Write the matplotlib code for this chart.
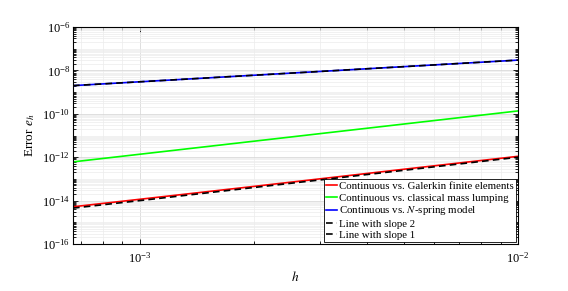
import numpy as np
import matplotlib
matplotlib.use("Agg")
import matplotlib.pyplot as plt
from matplotlib.ticker import LogLocator, NullFormatter, FixedLocator

plt.rcParams['font.family'] = ['Liberation Serif', 'DejaVu Serif']
plt.rcParams['mathtext.fontset'] = 'stix'

h = [1/1500, 1/1000, 1/500, 1/200, 1/100]
err_galerkin = [5.2e-15, 1.15e-14, 4.5e-14, 2.8e-13, 1.1e-12]
err_lumping = [6.1e-13, 1.37e-12, 5.45e-12, 3.4e-11, 1.36e-10]
err_spring = [2.0e-9, 3.0e-9, 6.0e-9, 1.5e-8, 3.0e-8]
slope2_line = [4.5e-15, 1.0e-14, 4.0e-14, 2.5e-13, 1.0e-12]
slope1_line = [2.0e-9, 3.0e-9, 6.0e-9, 1.5e-8, 3.0e-8]

fig = plt.figure(figsize=(5.68, 2.91), dpi=100)
ax = fig.add_axes([0.1285, 0.1615, 0.7835, 0.7455])

ax.loglog(h, err_galerkin, color='#ff0000', lw=1.2, label='Continuous vs. Galerkin finite elements')
ax.loglog(h, err_lumping, color='#00ff00', lw=1.2, label='Continuous vs. classical mass lumping')
ax.loglog(h, err_spring, color='#0000ff', lw=1.2, label='Continuous vs. $N$-spring model')
ax.loglog(h, slope2_line, color='black', lw=1.2, ls=(0, (4, 2.5)), label='Line with slope 2')
ax.loglog(h, slope1_line, color='black', lw=1.2, ls=(0, (4, 2.5)), label='Line with slope 1')

ax.set_xlim(1/1500, 1e-2)
ax.set_ylim(1e-16, 1e-6)

ax.yaxis.set_major_locator(FixedLocator([1e-16, 1e-14, 1e-12, 1e-10, 1e-8, 1e-6]))
ax.yaxis.set_minor_locator(LogLocator(base=10, subs=np.arange(1, 10), numticks=100))
ax.yaxis.set_minor_formatter(NullFormatter())
ax.xaxis.set_major_locator(FixedLocator([1e-3, 1e-2]))
ax.xaxis.set_minor_locator(LogLocator(base=10, subs=np.arange(2, 10), numticks=100))
ax.xaxis.set_minor_formatter(NullFormatter())

ax.grid(True, which='major', color='#d9d9d9', lw=0.6)
ax.grid(True, which='minor', color='#ececec', lw=0.5)
ax.set_axisbelow(True)

ax.tick_params(which='both', direction='in', top=True, right=True, labelsize=9, width=0.6)
ax.tick_params(which='major', length=3.5)
ax.tick_params(which='minor', length=2)
ax.tick_params(axis='y', pad=2)
ax.tick_params(axis='x', pad=5)
for s in ax.spines.values():
    s.set_linewidth(0.8)

ax.set_xlabel('$h$', fontsize=9.5)
ax.set_ylabel('Error $e_h$', fontsize=9.5)
ax.yaxis.set_label_coords(-0.08, 0.5)
ax.xaxis.set_label_coords(0.5, -0.12)

leg = ax.legend(loc='lower right', fontsize=7.8, handlelength=1.0, handletextpad=0.25,
                borderpad=0.2, labelspacing=0.17, borderaxespad=0.15, fancybox=False,
                framealpha=1, edgecolor='black')
leg.get_frame().set_linewidth(0.6)

fig.savefig('out.png', dpi=100)
